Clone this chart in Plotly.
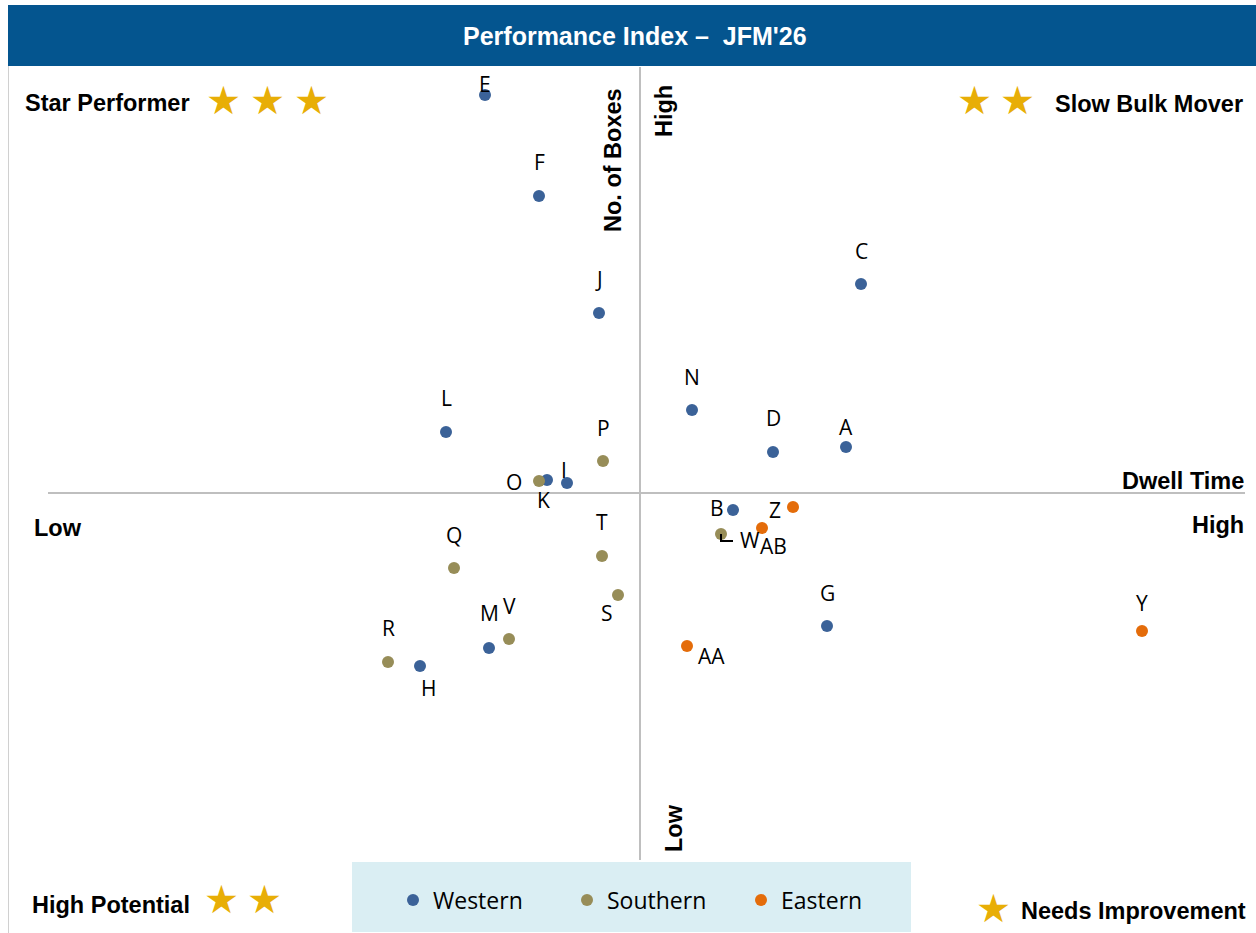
import plotly.graph_objects as go

# ---- data (index units: x = dwell time, y = no. of boxes; 0 = quadrant split) ----
western_names = ["E", "F", "J", "C", "L", "N", "D", "A", "K", "I", "B", "G", "M", "H"]
western_x = [-15.5, -10.1, -4.1, 22.1, -19.4, 5.2, 13.3, 20.6, -9.3, -7.3, 9.3, 18.7, -15.1, -22.0]
western_y = [39.8, 29.7, 18.0, 20.9, 6.1, 8.3, 4.1, 4.6, 1.3, 1.0, -1.7, -13.3, -15.5, -17.3]

southern_names = ["P", "O", "W", "T", "Q", "S", "V", "R"]
southern_x = [-3.7, -10.1, 8.1, -3.8, -18.6, -2.2, -13.1, -25.2]
southern_y = [3.2, 1.2, -4.1, -6.3, -7.5, -10.2, -14.6, -16.9]

eastern_names = ["Z", "AB", "Y", "AA"]
eastern_x = [15.3, 12.2, 50.2, 4.7]
eastern_y = [-1.4, -3.5, -13.8, -15.3]

series_names = ["Western", "Southern", "Eastern"]
series_colors = ["#3B6298", "#978D58", "#E46C0A"]

# label offsets in pixels (dx right, dy up)
label_offsets = {
    "E": (0, 11), "F": (0, 34), "J": (0, 34), "C": (0, 33), "L": (0, 34),
    "N": (0, 33), "D": (0, 34), "A": (0, 20), "K": (-4, -20), "I": (-3, 13),
    "B": (-16, 2), "G": (0, 33), "M": (0, 35), "H": (8, -22),
    "P": (0, 33), "O": (-25, -1), "W": (29, -6), "T": (0, 34), "Q": (0, 33),
    "S": (-11, -18), "V": (0, 33), "R": (0, 34),
    "Z": (-18, -3), "AB": (11, -18), "Y": (0, 28), "AA": (24, -10),
}

W, H = 1256, 933
X_RANGE = [-64.0, 61.6]
Y_RANGE = [-44.0, 49.3]

fig = go.Figure()
groups = [
    (western_names, western_x, western_y),
    (southern_names, southern_x, southern_y),
    (eastern_names, eastern_x, eastern_y),
]
annotations = []
for (names, xs, ys), sname, col in zip(groups, series_names, series_colors):
    fig.add_trace(go.Scatter(
        x=xs, y=ys, mode="markers", name=sname,
        marker=dict(size=12, color=col),
        text=names, hoverinfo="text+name",
    ))
    for n, xv, yv in zip(names, xs, ys):
        dx, dy = label_offsets[n]
        annotations.append(dict(
            x=xv, y=yv, xref="x", yref="y", text=n, showarrow=False,
            xshift=dx, yshift=dy, xanchor="center", yanchor="middle",
            font=dict(family="Open Sans", size=21, color="#000000"),
        ))

def px(xp):
    return xp / W

def py(yp):
    return 1 - yp / H

bold = dict(family="Liberation Sans, Arial", size=23.5, color="#000000")
gold = "#E8AE06"
star_font = dict(family="DejaVu Sans", size=39, color=gold)

fixed = []
# title
fixed.append(dict(x=px(635), y=py(36), text="<b>Performance Index –  JFM'26</b>",
                  font=dict(family="Liberation Sans, Arial", size=25, color="#FFFFFF")))

# quadrant labels
fixed += [
    dict(x=px(23), y=py(103), xanchor="left", text="<b>Star Performer</b>", font=bold),
    dict(x=px(1245), y=py(104), xanchor="right", text="<b>Slow Bulk Mover</b>", font=bold),
    dict(x=px(30), y=py(905), xanchor="left", text="<b>High Potential</b>", font=bold),
    dict(x=px(1248), y=py(911), xanchor="right", text="<b>Needs Improvement</b>", font=bold),
    dict(x=px(32), y=py(528), xanchor="left", text="<b>Low</b>", font=bold),
    dict(x=px(1246), y=py(525), xanchor="right", text="<b>High</b>", font=bold),
    dict(x=px(1246), y=py(481), xanchor="right", text="<b>Dwell Time</b>", font=bold),
    dict(x=px(613), y=py(160), textangle=-90, text="<b>No. of Boxes</b>", font=bold),
    dict(x=px(664), y=py(111), textangle=-90, text="<b>High</b>", font=bold),
    dict(x=px(674), y=py(828), textangle=-90, text="<b>Low</b>", font=bold),
]

# stars
for sx, sy in [(224, 100), (267, 100), (311, 100), (974, 100), (1017, 100),
               (221, 899), (264, 899), (993, 908)]:
    fixed.append(dict(x=px(sx), y=py(sy), text="★", font=star_font))

for a in fixed:
    a.setdefault("xanchor", "center")
    a.setdefault("yanchor", "middle")
    a.update(xref="paper", yref="paper", showarrow=False)
annotations += fixed

shapes = [
    # title bar
    dict(type="rect", xref="paper", yref="paper", x0=px(8), x1=1, y0=py(66), y1=py(5),
         fillcolor="#04558F", line=dict(width=0), layer="below"),
    # left frame
    dict(type="line", xref="paper", yref="paper", x0=px(8.5), x1=px(8.5), y0=py(66), y1=0,
         line=dict(color="#D0D0D0", width=1), layer="below"),
    # legend box
    dict(type="rect", xref="paper", yref="paper", x0=px(352), x1=px(911), y0=py(932), y1=py(862),
         fillcolor="#DAEEF3", line=dict(width=0), layer="below"),
    # quadrant lines
    dict(type="line", xref="x", yref="y", x0=-59.2, x1=60.5, y0=0, y1=0,
         line=dict(color="#BFBFBF", width=2), layer="below"),
    dict(type="line", xref="x", yref="y", x0=0, x1=0, y0=-36.7, y1=42.6,
         line=dict(color="#BFBFBF", width=2), layer="below"),
    # leader line for W
    dict(type="path", xref="x", yref="y", xsizemode="pixel", ysizemode="pixel",
         xanchor=southern_x[2], yanchor=southern_y[2], path="M 0,0 L 0,-7 L 12,-7",
         line=dict(color="#000000", width=2)),
]

fig.update_layout(
    width=W, height=H,
    margin=dict(l=0, r=0, t=0, b=0),
    paper_bgcolor="#FFFFFF", plot_bgcolor="rgba(0,0,0,0)",
    xaxis=dict(range=X_RANGE, visible=False, fixedrange=True),
    yaxis=dict(range=Y_RANGE, visible=False, fixedrange=True),
    annotations=annotations, shapes=shapes,
    showlegend=True,
    legend=dict(orientation="h", x=px(393), y=py(900), xanchor="left", yanchor="middle",
                bgcolor="rgba(0,0,0,0)", entrywidth=129, entrywidthmode="pixels",
                font=dict(family="Open Sans", size=23, color="#000000")),
)

fig.write_html("out.html", config={"displayModeBar": False})

# remove the default page margin so the figure sits at the window origin
with open("out.html", encoding="utf-8") as f:
    html = f.read()
html = html.replace("<head>", "<head><style>html,body{margin:0;padding:0;overflow:hidden;}</style>", 1)
with open("out.html", "w", encoding="utf-8") as f:
    f.write(html)
